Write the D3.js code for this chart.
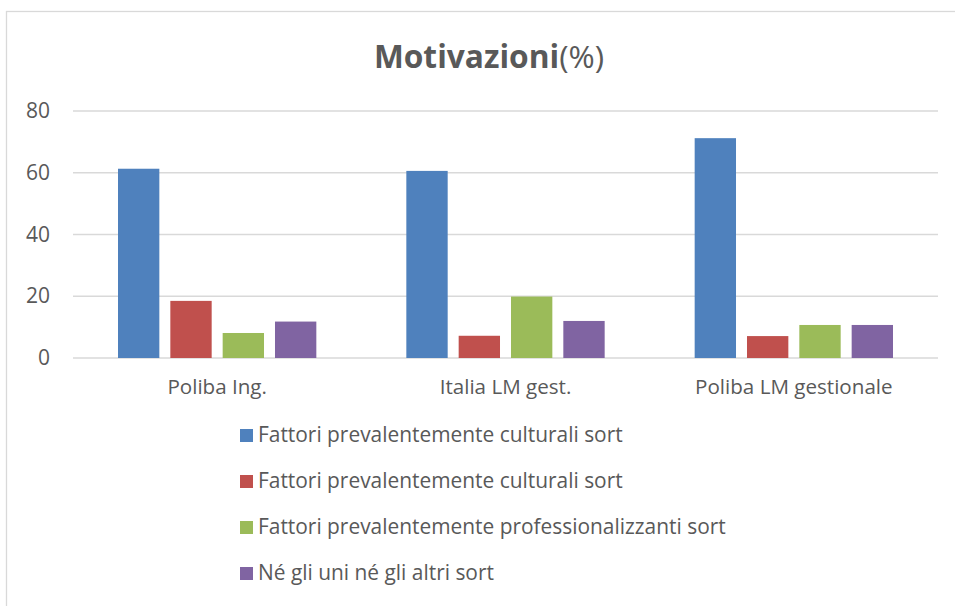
<!DOCTYPE html>
<html>
<head>
<meta charset="utf-8">
<script src="https://cdn.jsdelivr.net/npm/d3@7"></script>
<style>
  body { margin: 0; background: #fff; }
  svg { display: block; }
  text { font-family: "Open Sans", "Noto Sans", sans-serif; fill: #595959; }
</style>
</head>
<body>
<div id="chart"></div>
<script>
// Dati
const categories = ["Poliba Ing.", "Italia LM gest.", "Poliba LM gestionale"];
const seriesNames = [
    "Fattori prevalentemente culturali sort",
    "Fattori prevalentemente culturali sort",
    "Fattori prevalentemente professionalizzanti sort",
    "Né gli uni né gli altri sort"
];
const seriesColors = ["#4F81BD", "#C0504D", "#9BBB59", "#8064A2"];
const culturali1 = [61.3, 60.6, 71.2];
const culturali2 = [18.5, 7.2, 7.1];
const professionalizzanti = [8.1, 19.9, 10.7];
const nessuno = [11.8, 12.0, 10.7];
const yTicks = [0, 20, 40, 60, 80];

const seriesValues = [culturali1, culturali2, professionalizzanti, nessuno];

const width = 955, height = 606;
const plot = { left: 73, right: 938, top: 111, bottom: 358 };

const svg = d3.select("#chart").append("svg")
    .attr("width", width)
    .attr("height", height);

// Bordo del grafico
svg.append("rect")
    .attr("x", 6.5).attr("y", 11.5)
    .attr("width", 980).attr("height", 620)
    .attr("fill", "none")
    .attr("stroke", "#d9d9d9")
    .attr("stroke-width", 1.3);

// Titolo
const title = svg.append("text")
    .attr("x", 489).attr("y", 68)
    .attr("text-anchor", "middle")
    .attr("font-size", "31.7px");
title.append("tspan").attr("font-weight", "bold").text("Motivazioni");
title.append("tspan").text("(%)");

const x0 = d3.scaleBand()
    .domain(categories)
    .range([plot.left, plot.right])
    .paddingInner(0)
    .paddingOuter(0);

const x1 = d3.scaleBand()
    .domain(d3.range(seriesNames.length))
    .range([45, x0.bandwidth() - 45])
    .paddingInner(0.21);

const y = d3.scaleLinear()
    .domain([0, 80])
    .range([plot.bottom, plot.top]);

// Griglia
svg.append("g")
    .selectAll("line")
    .data(yTicks)
    .enter().append("line")
    .attr("x1", plot.left).attr("x2", plot.right)
    .attr("y1", d => y(d)).attr("y2", d => y(d))
    .attr("stroke", "#d9d9d9")
    .attr("stroke-width", 1.3);

// Asse Y
const yAxis = svg.append("g")
    .attr("transform", `translate(${plot.left - 23},0)`)
    .call(d3.axisLeft(y).tickValues(yTicks).tickSize(0).tickPadding(0));
yAxis.select(".domain").remove();
yAxis.selectAll("text")
    .attr("font-size", "21px")
    .attr("fill", "#595959")
    .attr("font-family", "\"Open Sans\", sans-serif");

// Asse X
const xAxis = svg.append("g")
    .attr("transform", `translate(0,${plot.bottom})`)
    .call(d3.axisBottom(x0).tickSize(0).tickPadding(21));
xAxis.select(".domain").remove();
xAxis.selectAll("text")
    .attr("font-size", "20.6px")
    .attr("fill", "#595959")
    .attr("font-family", "\"Open Sans\", sans-serif");

// Barre
const groups = svg.append("g")
    .selectAll("g")
    .data(categories)
    .enter().append("g")
    .attr("transform", d => `translate(${x0(d)},0)`);

groups.selectAll("rect")
    .data((d, i) => seriesValues.map((vals, s) => ({ s: s, v: vals[i] })))
    .enter().append("rect")
    .attr("x", d => x1(d.s))
    .attr("width", x1.bandwidth())
    .attr("y", d => y(d.v))
    .attr("height", d => y(0) - y(d.v))
    .attr("fill", d => seriesColors[d.s]);

// Legenda
const legend = svg.append("g")
    .selectAll("g")
    .data(seriesNames)
    .enter().append("g")
    .attr("transform", (d, i) => `translate(240,${435 + i * 46})`);

legend.append("rect")
    .attr("x", 0).attr("y", -6)
    .attr("width", 13).attr("height", 13)
    .attr("fill", (d, i) => seriesColors[i]);

legend.append("text")
    .attr("x", 18).attr("y", 0)
    .attr("dy", "0.35em")
    .attr("font-size", "20.9px")
    .text(d => d);
</script>
</body>
</html>
